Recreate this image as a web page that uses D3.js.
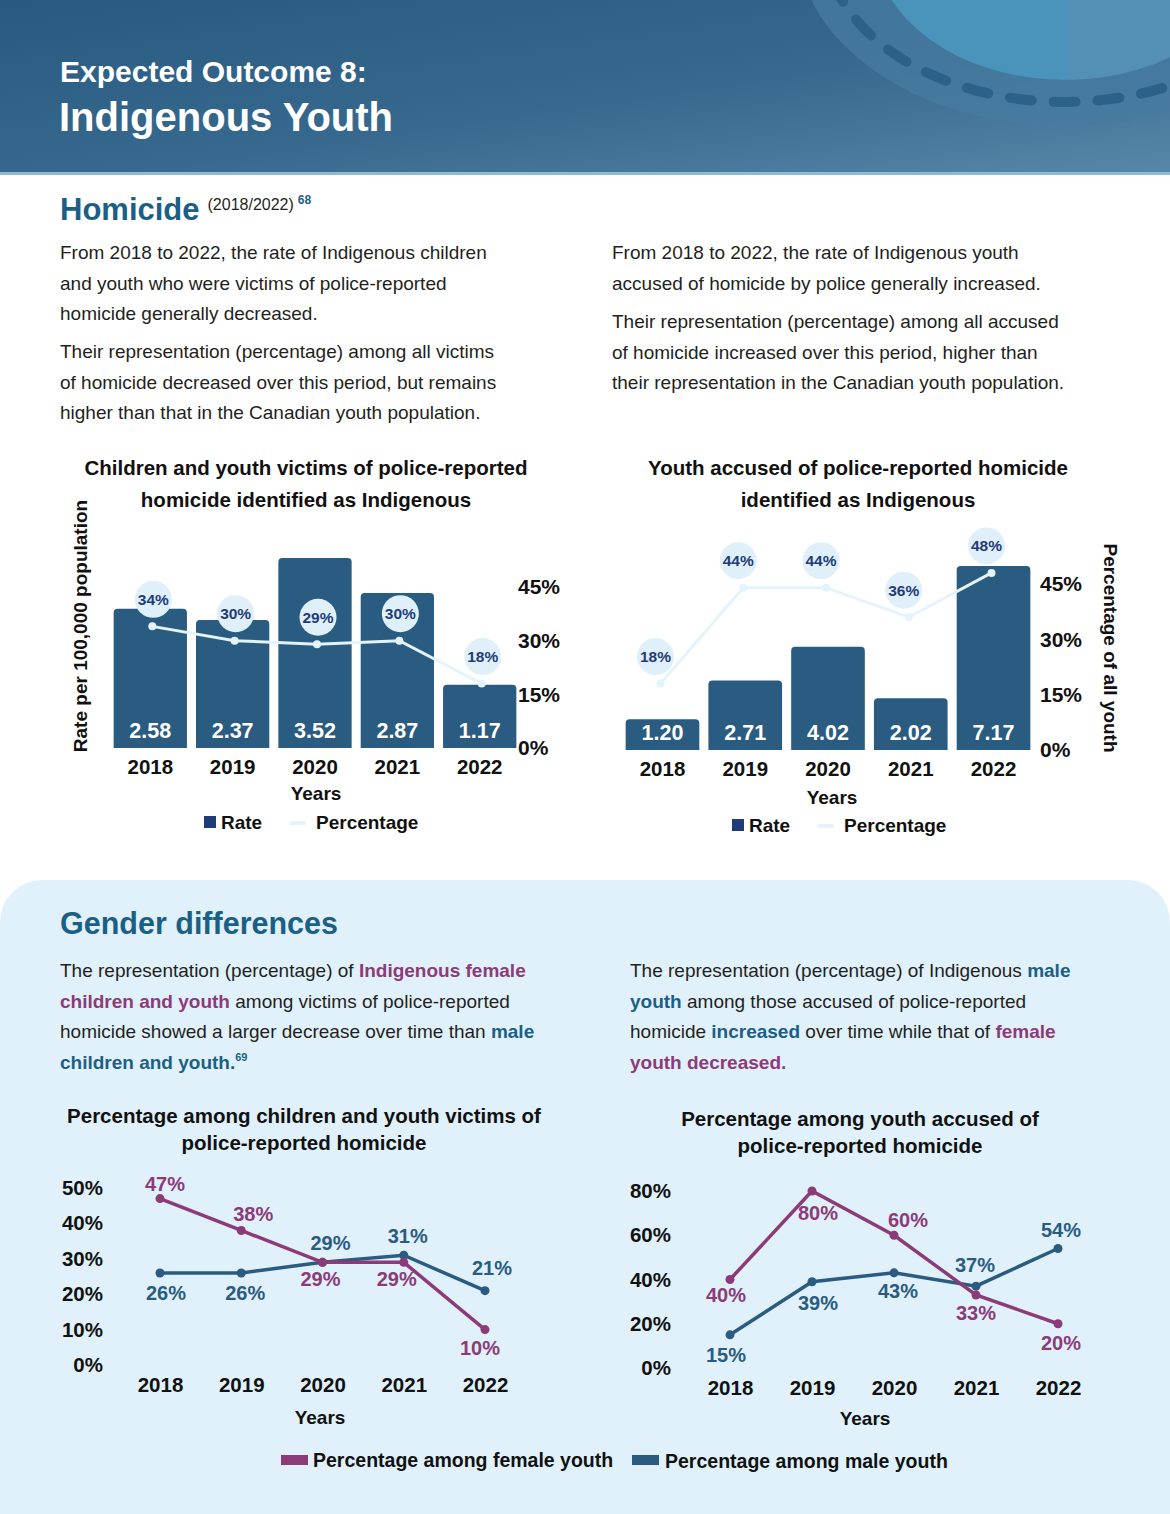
<!DOCTYPE html>
<html>
<head>
<meta charset="utf-8">
<script src="https://cdn.jsdelivr.net/npm/d3@7"></script>
<style>
  body { margin: 0; background: #fff; }
  svg { display: block; font-family: "Liberation Sans", Arial, Helvetica, sans-serif; }
</style>
</head>
<body>
<div id="page"></div>
<script>
// chart values
var years = ["2018", "2019", "2020", "2021", "2022"];
var victimRate = [2.58, 2.37, 3.52, 2.87, 1.17];
var victimPct = [34, 30, 29, 30, 18];
var accusedRate = [1.20, 2.71, 4.02, 2.02, 7.17];
var accusedPct = [18, 44, 44, 36, 48];
var victimFemale = [47, 38, 29, 29, 10];
var victimMale = [26, 26, 29, 31, 21];
var accusedFemale = [40, 80, 60, 33, 20];
var accusedMale = [15, 39, 43, 37, 54];
var pctTicks = [0, 15, 30, 45];
var victimTicks = [0, 10, 20, 30, 40, 50];
var accusedTicks = [0, 20, 40, 60, 80];

var W = 1170, H = 1514;
var teal = "#1b5f86", purple = "#8c3b78", barBlue = "#2a5c81", navy = "#1f3c78", ink = "#231f20";
var lightLine = "#e4f3fc";

var svg = d3.select("#page").append("svg").attr("width", W).attr("height", H);

// ---- header band
var defs = svg.append("defs");
var grad = defs.append("linearGradient").attr("id", "hdr").attr("x1", "0").attr("y1", "0").attr("x2", "1").attr("y2", "1");
grad.append("stop").attr("offset", "0%").attr("stop-color", "#285a7f");
grad.append("stop").attr("offset", "55%").attr("stop-color", "#37698e");
grad.append("stop").attr("offset", "100%").attr("stop-color", "#5787a8");
defs.append("clipPath").attr("id", "hdrClip").append("rect").attr("width", W).attr("height", 172);
defs.append("clipPath").attr("id", "innerClip").append("ellipse")
  .attr("cx", 1065).attr("cy", -60).attr("rx", 192).attr("ry", 140);

svg.append("rect").attr("width", W).attr("height", 172).attr("fill", "url(#hdr)");
var deco = svg.append("g").attr("clip-path", "url(#hdrClip)");
deco.append("ellipse").attr("cx", 1065).attr("cy", -60).attr("rx", 268).attr("ry", 186).attr("fill", "#467b9f").attr("opacity", 0.8);
deco.append("ellipse").attr("cx", 1065).attr("cy", -60).attr("rx", 192).attr("ry", 140).attr("fill", "#4a93bb");
deco.append("rect").attr("x", 1068).attr("y", 0).attr("width", 200).attr("height", 90).attr("fill", "#5b8db0").attr("opacity", 0.6)
  .attr("clip-path", "url(#innerClip)");
deco.append("ellipse").attr("cx", 1065).attr("cy", -60).attr("rx", 240).attr("ry", 162)
  .attr("fill", "none").attr("stroke", "#2d6288").attr("stroke-width", 10)
  .attr("stroke-linecap", "round").attr("stroke-dasharray", "22 22");
svg.append("rect").attr("x", 0).attr("y", 172).attr("width", W).attr("height", 3).attr("fill", "#8fbad6");

svg.append("text").attr("x", 60).attr("y", 82).attr("fill", "#fff").attr("font-size", 30).attr("font-weight", "bold")
  .text("Expected Outcome 8:");
svg.append("text").attr("x", 59).attr("y", 131).attr("fill", "#fff").attr("font-size", 40).attr("font-weight", "bold")
  .text("Indigenous Youth");

// ---- homicide section text
var h1 = svg.append("text").attr("x", 60).attr("y", 220).attr("fill", teal).attr("font-weight", "bold").attr("font-size", 31);
h1.append("tspan").text("Homicide");
h1.append("tspan").attr("dx", 8).attr("dy", -10).attr("font-size", 16).attr("font-weight", "normal").attr("fill", ink).text("(2018/2022)");
h1.append("tspan").attr("dx", 4).attr("dy", -6).attr("font-size", 12).attr("fill", teal).text("68");

function para(x, y0, lines, step) {
  lines.forEach(function(parts, i) {
    var t = svg.append("text").attr("x", x).attr("y", y0 + i * step).attr("font-size", 19).attr("fill", ink);
    parts.forEach(function(p) {
      if (typeof p === "string") { t.append("tspan").text(p); return; }
      var s = t.append("tspan").text(p.t);
      if (p.c) s.attr("fill", p.c).attr("font-weight", "bold");
      if (p.sup) s.attr("font-size", 11).attr("dy", -8).attr("font-weight", "bold").attr("fill", p.sup);
    });
  });
}
para(60, 259, [["From 2018 to 2022, the rate of Indigenous children"],
  ["and youth who were victims of police-reported"],
  ["homicide generally decreased."]], 30.5);
para(60, 358, [["Their representation (percentage) among all victims"],
  ["of homicide decreased over this period, but remains"],
  ["higher than that in the Canadian youth population."]], 30.5);
para(612, 259, [["From 2018 to 2022, the rate of Indigenous youth"],
  ["accused of homicide by police generally increased."]], 30.5);
para(612, 328, [["Their representation (percentage) among all accused"],
  ["of homicide increased over this period, higher than"],
  ["their representation in the Canadian youth population."]], 30.5);

// ---- combo charts (bars = rate, line = percentage)
function comboChart(o) {
  var g = svg.append("g");
  var x = d3.scaleBand().domain(years).range([o.x0, o.x1]).paddingInner(0.11).paddingOuter(0.02);
  var yR = d3.scaleLinear().domain([0, o.rateMax]).range([o.base, o.base - o.rateH]);
  var yP = d3.scaleLinear().domain([0, 45]).range([o.base, o.p45]);

  o.title.forEach(function(s, i) {
    g.append("text").attr("x", o.cx).attr("y", 475 + i * 32).attr("text-anchor", "middle")
      .attr("font-size", 20.5).attr("font-weight", "bold").attr("fill", "#111").text(s);
  });

  g.selectAll("path.bar").data(o.rate).enter().append("path").attr("class", "bar")
    .attr("fill", barBlue)
    .attr("d", function(d, i) {
      var x0 = x(years[i]), w = x.bandwidth(), y0 = yR(d), r = 4;
      return "M" + x0 + "," + o.base + "V" + (y0 + r) + "Q" + x0 + "," + y0 + " " + (x0 + r) + "," + y0 +
        "H" + (x0 + w - r) + "Q" + (x0 + w) + "," + y0 + " " + (x0 + w) + "," + (y0 + r) + "V" + o.base + "Z";
    });
  g.selectAll("text.val").data(o.rate).enter().append("text")
    .attr("x", function(d, i) { return x(years[i]) + x.bandwidth() / 2; })
    .attr("y", o.base - 10).attr("text-anchor", "middle").attr("fill", "#fff")
    .attr("font-size", 21.5).attr("font-weight", "bold")
    .text(function(d) { return d.toFixed(2); });

  var xAxis = g.append("g").attr("transform", "translate(0," + o.base + ")")
    .call(d3.axisBottom(x).tickSize(0).tickPadding(11));
  xAxis.select(".domain").remove();
  xAxis.selectAll("text").attr("font-size", 20.5).attr("font-weight", "bold").attr("fill", "#111").attr("font-family", null);
  g.append("text").attr("x", o.cx + 10).attr("y", o.base + o.yearsDy).attr("text-anchor", "middle")
    .attr("font-size", 19).attr("font-weight", "bold").attr("fill", "#111").text("Years");

  var pAxis = g.append("g").attr("transform", "translate(" + o.axisX + ",0)")
    .call(d3.axisRight(yP).tickValues(pctTicks).tickSize(0).tickPadding(0).tickFormat(function(d) { return d + "%"; }));
  pAxis.select(".domain").remove();
  pAxis.selectAll("text").attr("font-size", 21).attr("font-weight", "bold").attr("fill", "#111").attr("font-family", null);

  var px = function(d, i) { return x(years[i]) + x.bandwidth() / 2 + o.lineShift; };
  g.append("path").datum(o.pct).attr("fill", "none").attr("stroke", lightLine).attr("stroke-width", 3)
    .attr("d", d3.line().x(px).y(function(d) { return yP(d); }));
  g.selectAll("circle.pt").data(o.pct).enter().append("circle")
    .attr("cx", px).attr("cy", function(d) { return yP(d); }).attr("r", 4).attr("fill", lightLine);
  g.selectAll("circle.bub").data(o.pct).enter().append("circle")
    .attr("cx", function(d, i) { return px(d, i) + o.bubShift; }).attr("cy", function(d) { return yP(d) - 27; })
    .attr("r", 18.5).attr("fill", "#dff0fb");
  g.selectAll("text.bub").data(o.pct).enter().append("text")
    .attr("x", function(d, i) { return px(d, i) + o.bubShift; }).attr("y", function(d) { return yP(d) - 21.5; })
    .attr("text-anchor", "middle").attr("font-size", 15.5).attr("font-weight", "bold").attr("fill", navy)
    .text(function(d) { return d + "%"; });

  // legend
  var ly = o.base + o.legDy;
  g.append("rect").attr("x", o.legX).attr("y", ly - 13).attr("width", 12).attr("height", 12).attr("fill", navy);
  g.append("text").attr("x", o.legX + 17).attr("y", ly).attr("font-size", 19).attr("font-weight", "bold").attr("fill", "#111").text("Rate");
  g.append("rect").attr("x", o.legX + 86).attr("y", ly - 8).attr("width", 16).attr("height", 4).attr("fill", lightLine);
  g.append("text").attr("x", o.legX + 112).attr("y", ly).attr("font-size", 19).attr("font-weight", "bold").attr("fill", "#111").text("Percentage");

  var yl = g.append("text").attr("font-size", 19).attr("font-weight", "bold").attr("fill", "#111")
    .attr("text-anchor", "middle").text(o.yLabel);
  yl.attr("transform", "translate(" + o.yLabelX + "," + o.yLabelY + ") rotate(" + (o.yLabelLeft ? -90 : 90) + ")");
}

comboChart({ x0: 112, x1: 518, base: 748, rate: victimRate, pct: victimPct, rateMax: 3.52, rateH: 190, p45: 587,
  cx: 306, title: ["Children and youth victims of police-reported", "homicide identified as Indigenous"],
  axisX: 518, lineShift: 2, bubShift: 1, legX: 204, legDy: 81, yearsDy: 52,
  yLabel: "Rate per 100,000 population", yLabelLeft: true, yLabelX: 87, yLabelY: 626 });
comboChart({ x0: 624, x1: 1032, base: 750, rate: accusedRate, pct: accusedPct, rateMax: 7.17, rateH: 184, p45: 584,
  cx: 822, title: ["Youth accused of police-reported homicide", "identified as Indigenous"],
  axisX: 1040, lineShift: -2, bubShift: -5, legX: 732, legDy: 82, yearsDy: 54,
  yLabel: "Percentage of all youth", yLabelLeft: false, yLabelX: 1104, yLabelY: 648 });
// right chart title sits a little right of the plot centre
svg.selectAll("text").filter(function() { return this.textContent === "Youth accused of police-reported homicide" || this.textContent === "identified as Indigenous"; })
  .attr("x", 858);

// ---- gender section panel
svg.append("rect").attr("x", 0).attr("y", 880).attr("width", W).attr("height", 700).attr("rx", 42).attr("fill", "#e0f1fb");
svg.append("text").attr("x", 60).attr("y", 934).attr("fill", teal).attr("font-size", 30.5).attr("font-weight", "bold").text("Gender differences");

para(60, 977, [["The representation (percentage) of ", { t: "Indigenous female", c: purple }],
  [{ t: "children and youth", c: purple }, " among victims of police-reported"],
  ["homicide showed a larger decrease over time than ", { t: "male", c: teal }],
  [{ t: "children and youth.", c: teal }, { t: "69", sup: teal }]], 30.5);
para(630, 977, [["The representation (percentage) of Indigenous ", { t: "male", c: teal }],
  [{ t: "youth", c: teal }, " among those accused of police-reported"],
  ["homicide ", { t: "increased", c: teal }, " over time while that of ", { t: "female", c: purple }],
  [{ t: "youth decreased.", c: purple }]], 30.5);

// ---- line charts by gender
function lineChart(o) {
  var g = svg.append("g");
  var x = d3.scalePoint().domain(years).range([o.x0, o.x1]);
  var y = d3.scaleLinear().domain([0, o.max]).range([o.base, o.top]);

  o.title.forEach(function(s, i) {
    g.append("text").attr("x", o.cx).attr("y", o.titleY + i * 27).attr("text-anchor", "middle")
      .attr("font-size", 20.5).attr("font-weight", "bold").attr("fill", "#111").text(s);
  });

  var yAxis = g.append("g").attr("transform", "translate(" + o.axisX + ",0)")
    .call(d3.axisLeft(y).tickValues(o.ticks).tickSize(0).tickPadding(0).tickFormat(function(d) { return d + "%"; }));
  yAxis.select(".domain").remove();
  yAxis.selectAll("text").attr("font-size", 20.5).attr("font-weight", "bold").attr("fill", "#111").attr("font-family", null);

  var xAxis = g.append("g").attr("transform", "translate(0," + o.base + ")")
    .call(d3.axisBottom(x).tickSize(0).tickPadding(12));
  xAxis.select(".domain").remove();
  xAxis.selectAll("text").attr("font-size", 20.5).attr("font-weight", "bold").attr("fill", "#111").attr("font-family", null);
  g.append("text").attr("x", o.yearsX).attr("y", o.base + o.yearsDy).attr("text-anchor", "middle")
    .attr("font-size", 19).attr("font-weight", "bold").attr("fill", "#111").text("Years");

  [{ v: o.male, c: barBlue, pos: o.malePos }, { v: o.female, c: purple, pos: o.femalePos }].forEach(function(s) {
    g.append("path").datum(s.v).attr("fill", "none").attr("stroke", s.c).attr("stroke-width", 3.5)
      .attr("d", d3.line().x(function(d, i) { return x(years[i]); }).y(function(d) { return y(d); }));
    g.selectAll(null).data(s.v).enter().append("circle")
      .attr("cx", function(d, i) { return x(years[i]); }).attr("cy", function(d) { return y(d); })
      .attr("r", 4.5).attr("fill", s.c);
    g.selectAll(null).data(s.v).enter().append("text")
      .attr("x", function(d, i) { return x(years[i]) + s.pos[i][0]; })
      .attr("y", function(d, i) { return y(d) + s.pos[i][1]; })
      .attr("text-anchor", "middle").attr("font-size", 20).attr("font-weight", "bold").attr("fill", s.c)
      .text(function(d) { return d + "%"; });
  });
}

lineChart({ x0: 160, x1: 485, base: 1365, top: 1188, max: 50, ticks: victimTicks, axisX: 103, yearsDy: 59,
  cx: 304, titleY: 1123, yearsX: 320, title: ["Percentage among children and youth victims of", "police-reported homicide"],
  female: victimFemale, male: victimMale,
  femalePos: [[5, -8], [12, -9], [-2, 24], [-7, 24], [-5, 25]],
  malePos: [[6, 27], [4, 27], [8, -12], [4, -12], [7, -16]] });
lineChart({ x0: 730, x1: 1058, base: 1368, top: 1191, max: 80, ticks: accusedTicks, axisX: 671, yearsDy: 57,
  cx: 860, titleY: 1126, yearsX: 865, title: ["Percentage among youth accused of", "police-reported homicide"],
  female: accusedFemale, male: accusedMale,
  femalePos: [[-4, 22], [6, 29], [14, -8], [0, 25], [3, 26]],
  malePos: [[-4, 27], [6, 28], [4, 25], [-1, -14], [3, -12]] });

// legend
var lg = svg.append("g");
lg.append("rect").attr("x", 281).attr("y", 1455).attr("width", 27).attr("height", 10).attr("fill", purple);
lg.append("text").attr("x", 313).attr("y", 1467).attr("font-size", 19.5).attr("font-weight", "bold").attr("fill", "#111").text("Percentage among female youth");
lg.append("rect").attr("x", 632).attr("y", 1455).attr("width", 27).attr("height", 10).attr("fill", barBlue);
lg.append("text").attr("x", 665).attr("y", 1468).attr("font-size", 19.5).attr("font-weight", "bold").attr("fill", "#111").text("Percentage among male youth");
</script>
</body>
</html>
